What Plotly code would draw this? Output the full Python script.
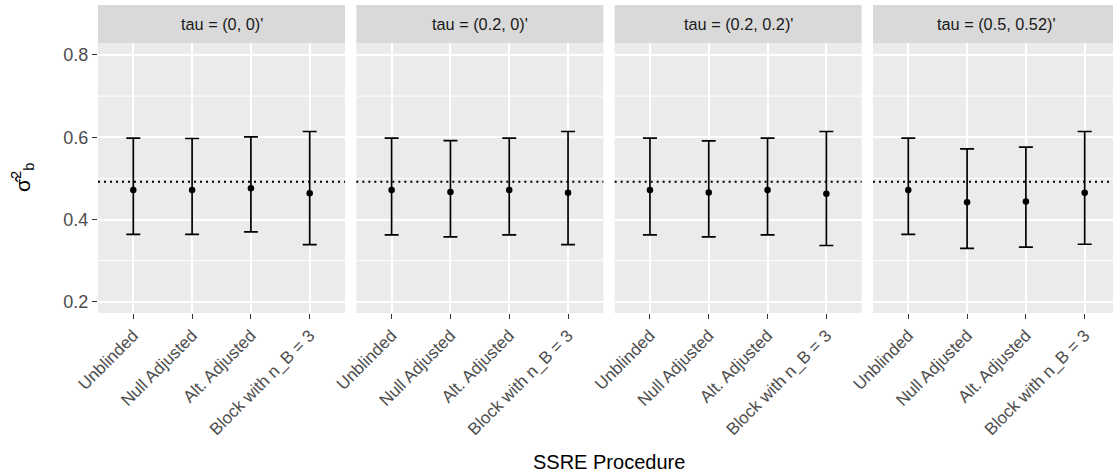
import plotly.graph_objects as go

categories = ["Unblinded", "Null Adjusted", "Alt. Adjusted", "Block with n_B = 3"]
panels = ["tau = (0, 0)'", "tau = (0.2, 0)'", "tau = (0.2, 0.2)'", "tau = (0.5, 0.52)'"]

means = [
    [0.472, 0.472, 0.476, 0.464],
    [0.472, 0.467, 0.472, 0.465],
    [0.472, 0.466, 0.472, 0.463],
    [0.472, 0.442, 0.444, 0.465],
]
lower = [
    [0.364, 0.364, 0.370, 0.339],
    [0.363, 0.358, 0.363, 0.339],
    [0.363, 0.358, 0.363, 0.337],
    [0.364, 0.330, 0.333, 0.340],
]
upper = [
    [0.598, 0.597, 0.601, 0.614],
    [0.598, 0.592, 0.598, 0.614],
    [0.598, 0.591, 0.598, 0.614],
    [0.598, 0.572, 0.576, 0.614],
]
true_value = 0.492
y_ticks = [0.2, 0.4, 0.6, 0.8]
y_minor_ticks = [0.3, 0.5, 0.7]

W, H = 1113, 476
ML, MT, MB = 98, 43, 163
plot_w = W - ML
plot_h = H - MT - MB
panel_w = 247
step = 258.33
unit = panel_w / 4.2
FONT = "Liberation Sans, Arial, sans-serif"

fig = go.Figure()
layout = dict(
    width=W, height=H,
    margin=dict(l=ML, r=0, t=MT, b=MB),
    paper_bgcolor="white", plot_bgcolor="#EBEBEB",
    showlegend=False,
    font=dict(family=FONT),
)
shapes = []
annotations = []
for i in range(4):
    sfx = "" if i == 0 else str(i + 1)
    x0 = i * step
    x1 = min(x0 + panel_w, plot_w)
    xr_hi = 0.4 + (x1 - x0) / unit
    dom = [x0 / plot_w, x1 / plot_w]
    layout["xaxis" + sfx] = dict(
        domain=dom, range=[0.4, xr_hi], anchor="y" + sfx,
        tickmode="array", tickvals=[1, 2, 3, 4], ticktext=categories,
        tickangle=-45, ticks="outside", ticklen=5, tickwidth=1.3, tickcolor="#333333",
        tickfont=dict(size=17, color="#4D4D4D", family=FONT),
        showgrid=True, gridcolor="white", gridwidth=2, zeroline=False, showline=False,
    )
    layout["yaxis" + sfx] = dict(
        domain=[0, 1], range=[0.173, 0.829], anchor="x" + sfx,
        tickmode="array", tickvals=y_ticks, ticktext=[f"{v:.1f}" for v in y_ticks],
        ticks="outside" if i == 0 else "", ticklen=5, tickwidth=1.3, tickcolor="#333333",
        showticklabels=(i == 0),
        tickfont=dict(size=18, color="#4D4D4D", family=FONT),
        showgrid=True, gridcolor="white", gridwidth=2, zeroline=False, showline=False,
    )
    fig.add_trace(go.Scatter(
        x=[1, 2, 3, 4], y=means[i], mode="markers",
        marker=dict(color="black", size=6.5),
        error_y=dict(type="data", symmetric=False,
                     array=[u - m for u, m in zip(upper[i], means[i])],
                     arrayminus=[m - l for m, l in zip(means[i], lower[i])],
                     color="black", thickness=1.7, width=7),
        xaxis="x" + sfx, yaxis="y" + sfx,
    ))
    for mv in y_minor_ticks:
        shapes.append(dict(type="line", xref=("x" + sfx) + " domain", yref="y" + sfx,
                           x0=0, x1=1, y0=mv, y1=mv,
                           line=dict(color="white", width=1), layer="below"))
    shapes.append(dict(type="line", xref=("x" + sfx) + " domain", yref="y" + sfx,
                       x0=0, x1=1, y0=true_value, y1=true_value,
                       line=dict(color="black", width=2, dash="2px,4px"), layer="above"))
    shapes.append(dict(type="rect", xref="paper", yref="paper",
                       x0=dom[0], x1=dom[1], y0=1, y1=1 + 38 / plot_h,
                       fillcolor="#D9D9D9", line=dict(width=0), layer="below"))
    annotations.append(dict(text=panels[i], xref="x" + sfx, yref="paper",
                            x=2.5, y=1 + 19 / plot_h, showarrow=False,
                            xanchor="center", yanchor="middle",
                            font=dict(size=16.3, color="#1A1A1A", family=FONT)))

annotations.append(dict(text="SSRE Procedure", xref="paper", yref="paper",
                        x=(609 - ML) / plot_w, y=-(462 - (MT + plot_h)) / plot_h,
                        showarrow=False, xanchor="center", yanchor="middle",
                        font=dict(size=20, color="black", family=FONT)))
annotations.append(dict(text="σ̂<sup>2</sup><sub>b</sub>", xref="paper", yref="paper",
                        x=(22 - ML) / plot_w, y=(MT + plot_h - 178) / plot_h,
                        showarrow=False, xanchor="center", yanchor="middle",
                        textangle=-90, font=dict(size=21, color="black", family=FONT)))

layout["shapes"] = shapes
layout["annotations"] = annotations
fig.update_layout(**layout)
fig.write_html("out.html", config={"displayModeBar": False},
               post_script="document.body.style.margin='0px';")
